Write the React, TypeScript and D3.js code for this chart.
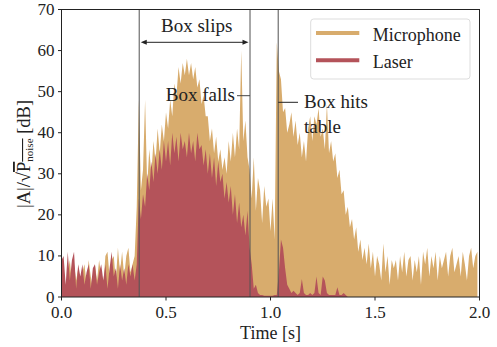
import React from "react";
import * as d3 from "d3";

const DT = 0.01;

const microphone: number[] = [
  4, 7, 2, 6, 9, 3, 8, 4, 7, 2,
  6, 8, 3, 9, 5, 2, 8, 4, 9, 5,
  3, 10, 11, 5, 9, 10, 4, 12, 6, 11,
  5, 10, 12, 6, 8, 10, 22, 48, 26, 31,
  48, 27, 36, 30, 38, 33, 41, 35, 42, 38,
  45, 41, 48, 44, 52, 49, 56, 52, 57, 54,
  58, 54, 57, 53, 56, 51, 53, 47, 49, 44,
  44, 38, 41, 35, 39, 33, 36, 31, 34, 30,
  38, 33, 40, 34, 41, 36, 60, 38, 43, 34,
  31, 24, 34, 21, 29, 26, 18, 27, 22, 24,
  16, 24, 14, 62, 55, 53, 45, 46, 40, 42,
  45, 39, 43, 37, 40, 34, 38, 33, 41, 44,
  38, 44, 42, 46, 39, 41, 36, 47, 35, 38,
  33, 35, 29, 31, 25, 26, 20, 22, 17, 19,
  14, 17, 11, 14, 9, 12, 8, 13, 7, 11,
  5, 10, 8, 4, 13, 6, 10, 3, 9, 7,
  9, 4, 10, 6, 11, 5, 9, 10, 4, 9,
  6, 10, 3, 11, 8, 12, 5, 10, 7, 11,
  4, 10, 7, 9, 11, 5, 10, 12, 6, 8,
  10, 5, 11, 8, 4, 10, 12, 7, 10, 11,
];

const laser: number[] = [
  9, 10, 3, 11, 4, 9, 11, 2, 8, 5,
  8, 3, 6, 8, 2, 7, 8, 3, 6, 8,
  4, 8, 2, 7, 11, 5, 7, 2, 8, 4,
  7, 3, 8, 5, 8, 4, 8, 24, 19, 25,
  22, 30, 26, 33, 28, 35, 30, 36, 31, 38,
  33, 38, 32, 40, 35, 39, 33, 40, 36, 38,
  34, 40, 35, 38, 33, 40, 36, 37, 32, 36,
  30, 35, 29, 34, 27, 33, 28, 30, 24, 28,
  23, 27, 20, 25, 18, 23, 17, 20, 15, 21,
  12, 8, 2, 3, 1, 0.5, 0.5, 0.3, 0.3, 0.3,
  0.3, 0.3, 0.5, 0.5, 6, 14, 12, 7, 3, 2,
  1, 1.5, 1, 0.5, 1, 4.4, 1, 0.5, 0.5, 1,
  0.5, 1, 5, 1, 0.5, 5, 4, 1, 0.5, 0.5,
  0.5, 0.5, 2.4, 0.5, 0.5, 1, 0.5, 0, 0, 0,
  0, 0, 0, 0, 0, 0, 0, 0, 0, 0,
  0, 0, 0, 0, 0, 0, 0, 0, 0, 0,
  0, 0, 0, 0, 0, 0, 0, 0, 0, 0,
  0, 0, 0, 0, 0, 0, 0, 0, 0, 0,
  0, 0, 0, 0, 0, 0, 0, 0, 0, 0,
  0, 0, 0, 0, 0, 0, 0, 0, 0, 0,
];

const events: number[] = [0.372, 0.902, 1.037];
const xTicks: number[] = [0, 0.5, 1.0, 1.5, 2.0];
const yTicks: number[] = [0, 10, 20, 30, 40, 50, 60, 70];
const seriesNames: string[] = ["Microphone", "Laser"];
const seriesColors: string[] = ["#d8ac6d", "#b4535a"];

const FONT = "'Liberation Serif', 'Times New Roman', serif";

export default function App() {
  const W = 497, H = 347;
  const x = d3.scaleLinear().domain([0, 2]).range([61.5, 479.5]);
  const y = d3.scaleLinear().domain([0, 70]).range([297, 9.5]);
  const area = d3
    .area<number>()
    .x((_, i) => x(i * DT))
    .y0(y(0))
    .y1((d) => y(d));
  const [top, bottom] = [y(70), y(0)];
  const [left, right] = [x(0), x(2)];
  const arrowY = 42.3;
  const ax0 = x(events[0]) + 1.5, ax1 = x(events[1]) - 1.5;

  return (
    <svg width={W} height={H} style={{ position: "absolute", left: 0, top: 0 }} fontFamily={FONT}>
      <rect x={0} y={0} width={W} height={H} fill="#fff" />
      <defs>
        <clipPath id="plotclip">
          <rect x={left} y={top} width={right - left} height={bottom - top} />
        </clipPath>
      </defs>
      <g clipPath="url(#plotclip)">
        <path d={area(microphone) || ""} fill={seriesColors[0]} />
        <path d={area(laser) || ""} fill={seriesColors[1]} />
        {events.map((e, i) => (
          <line key={i} x1={x(e)} x2={x(e)} y1={top} y2={bottom} stroke="#555" strokeOpacity={0.85} strokeWidth={1.2} />
        ))}
      </g>
      <rect x={left} y={top} width={right - left} height={bottom - top} fill="none" stroke="#222" strokeWidth={1} />
      {yTicks.map((t) => (
        <g key={t}>
          <line x1={left - 3.5} x2={left} y1={y(t)} y2={y(t)} stroke="#222" />
          <text x={left - 7} y={y(t) + 5.5} fontSize={17} textAnchor="end" fill="#222">{t}</text>
        </g>
      ))}
      {xTicks.map((t) => (
        <g key={t}>
          <line x1={x(t)} x2={x(t)} y1={bottom} y2={bottom + 3.5} stroke="#222" />
          <text x={x(t)} y={318} fontSize={17} textAnchor="middle" fill="#222">{t.toFixed(1)}</text>
        </g>
      ))}
      <text x={(left + right) / 2} y={338.5} fontSize={18} textAnchor="middle" fill="#222">Time [s]</text>
      <text transform={`translate(30,154) rotate(-90)`} fontSize={18.5} textAnchor="middle" fill="#222">
        |A|/√<tspan textDecoration="overline">P<tspan fontSize={11} dy={3}>noise</tspan></tspan><tspan dy={-3}> [dB]</tspan>
      </text>
      <text x={196.7} y={32} fontSize={19} textAnchor="middle" fill="#222">Box slips</text>
      <line x1={ax0 + 5} x2={ax1 - 5} y1={arrowY} y2={arrowY} stroke="#222" strokeWidth={1} />
      <path d={`M${ax0},${arrowY} l6,-2.5 l0,5 z`} fill="#222" />
      <path d={`M${ax1},${arrowY} l-6,-2.5 l0,5 z`} fill="#222" />
      <text x={235} y={101} fontSize={19} textAnchor="end" fill="#222">Box falls</text>
      <line x1={237} x2={x(events[1])} y1={95.7} y2={95.7} stroke="#444" />
      <text x={304} y={108} fontSize={19} fill="#222">Box hits</text>
      <text x={304} y={133} fontSize={19} fill="#222">table</text>
      <line x1={x(events[2])} x2={298} y1={102.3} y2={102.3} stroke="#222" />
      <rect x={310.7} y={19} width={159.3} height={60} rx={3} fill="#fff" fillOpacity={0.8} stroke="#ddd" />
      {seriesNames.map((n, i) => (
        <g key={n}>
          <line x1={316} x2={359.3} y1={33 + i * 27.3} y2={33 + i * 27.3} stroke={seriesColors[i]} strokeWidth={4} />
          <text x={372.7} y={40.5 + i * 27} fontSize={18} fill="#222">{n}</text>
        </g>
      ))}
    </svg>
  );
}
